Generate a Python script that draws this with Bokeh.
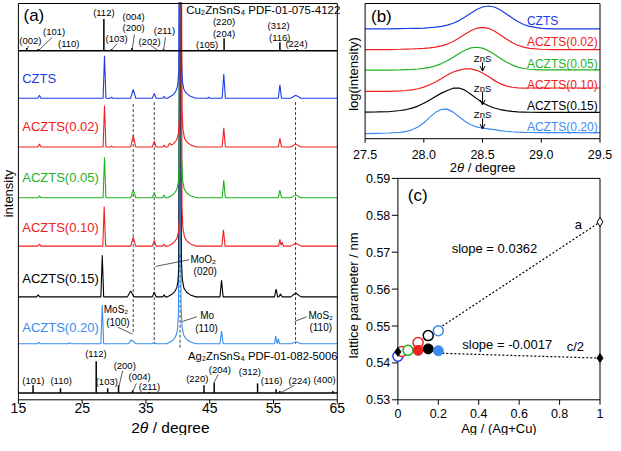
import numpy as np
from bokeh.plotting import figure
from bokeh.models import Range1d, Arrow, OpenHead
from bokeh.core.properties import value
from bokeh.embed import file_html
from bokeh.resources import INLINE

FONT = "Liberation Sans"

# ---------------- data ----------------
series_names = ["CZTS", "ACZTS(0.02)", "ACZTS(0.05)", "ACZTS(0.10)", "ACZTS(0.15)", "ACZTS(0.20)"]
series_colors = ["#1a3ce6", "#f02020", "#1fb21f", "#f02020", "#000000", "#3a8cf0"]

# panel (a): XRD patterns (peak 2theta, peak height, half width), vertical offsets
xrd_offset = [312, 261.5, 209, 159, 106.5, 58]
mo110_pos = [40.35, 40.45, 40.40, 40.45, 40.35, 40.30]

czts_pos = [18.3, 28.5, 29.6, 33.0, 36.3, 37.85, 44.85, 47.2, 56.0, 58.5]
czts_h = [3, 44, 1, 9, 5, 2, 1, 25, 14, 3]
czts_w = [0.25, 0.22, 0.2, 0.4, 0.3, 0.2, 0.2, 0.25, 0.25, 0.8]

a002_pos = [18.3, 28.5, 29.6, 33.0, 36.3, 37.85, 38.7, 47.2, 56.0, 58.5]
a002_h = [3, 43, 1, 12, 6, 2, 3, 20, 9, 3]
a002_w = [0.25, 0.22, 0.2, 0.4, 0.3, 0.2, 0.3, 0.25, 0.25, 0.8]

a005_pos = [18.3, 28.5, 33.0, 36.3, 37.85, 47.2, 56.0, 58.5]
a005_h = [2, 42, 8, 5, 3, 18, 8, 3]
a005_w = [0.25, 0.22, 0.4, 0.3, 0.2, 0.25, 0.25, 0.8]

a010_pos = [18.3, 28.45, 33.0, 36.3, 37.85, 47.15, 56.0, 56.35, 58.5]
a010_h = [2, 41, 9, 6, 2, 17, 7, 4, 3]
a010_w = [0.25, 0.22, 0.4, 0.3, 0.2, 0.25, 0.2, 0.2, 0.8]

a015_pos = [18.1, 28.15, 32.6, 36.3, 37.85, 46.85, 55.4, 56.1, 58.5]
a015_h = [2, 43, 6, 5, 2, 17, 8, 3, 4]
a015_w = [0.25, 0.22, 0.5, 0.3, 0.2, 0.25, 0.25, 0.25, 0.8]

a020_pos = [18.2, 23.0, 28.15, 32.7, 33.1, 36.3, 46.85, 55.35, 55.75, 58.5]
a020_h = [1.5, 1, 40, 4, 2, 1, 13, 8, 5, 2]
a020_w = [0.25, 0.3, 0.22, 0.45, 0.3, 0.3, 0.25, 0.2, 0.2, 0.8]

# Mo (110) substrate peak profile (offset from peak, height)
mo_dx = [-2.0, -1.6, -1.2, -0.9, -0.7, -0.5, -0.35, -0.2, -0.08, 0.0, 0.08, 0.2, 0.35, 0.6, 1.0, 1.6, 2.5]
mo_h = [0, 1.5, 3, 5, 7, 10, 15, 30, 300, 1000, 300, 40, 18, 9, 5, 2, 0]

# reference sticks
cu_base = 361
cu_pos = [16.3, 18.1, 23.0, 28.4, 29.6, 32.8, 36.95, 37.75, 44.9, 47.25, 56.0, 58.65]
cu_h = [3, 2, 1, 33, 2, 3, 1, 2, 2, 13, 9, 2]
ag_base = 7
ag_pos = [17.3, 21.6, 27.2, 29.0, 30.7, 32.9, 35.5, 44.1, 45.7, 52.5, 55.4, 56.0, 64.3]
ag_h = [8, 5, 33, 5, 8, 3, 1, 8, 11, 10, 4, 2, 2]
a_xticks = [15, 25, 35, 45, 55, 65]

# panel (b): log intensity around (112)
b_x = [27.5, 27.6, 27.7, 27.8, 27.85, 27.9, 27.95, 28.0, 28.05, 28.1, 28.15, 28.2, 28.25, 28.3,
       28.35, 28.4, 28.45, 28.5, 28.55, 28.6, 28.65, 28.7, 28.75, 28.8, 28.85, 28.9, 29.0, 29.1,
       29.2, 29.3, 29.4, 29.5]
b_czts = [113.7, 113.7, 113.7, 114.0, 114.1, 114.2, 114.3, 114.6, 115.0, 115.5, 116.3, 117.6, 119.5,
          122.3, 126.0, 130.0, 133.8, 136.4, 137.4, 136.4, 133.5, 129.5, 125.2, 121.3, 118.3, 116.3,
          114.3, 113.8, 113.7, 113.7, 113.7, 113.7]
b_002 = [92.3, 92.3, 92.3, 92.6, 92.8, 92.9, 93.2, 93.6, 94.1, 94.9, 96.1, 98.0, 100.7, 104.2, 108.1,
         111.8, 114.3, 115.3, 114.3, 111.5, 107.6, 103.4, 99.7, 96.8, 94.8, 93.6, 92.6, 92.3, 92.3,
         92.3, 92.3, 92.3]
b_005 = [71.0, 71.0, 71.0, 71.3, 71.6, 71.8, 72.2, 72.9, 73.9, 75.4, 77.8, 80.7, 84.3, 88.2, 91.6,
         94.1, 94.7, 93.8, 91.1, 87.4, 83.3, 79.5, 76.5, 74.1, 72.7, 71.9, 71.2, 71.2, 71.2, 71.2,
         71.2, 71.2]
b_010 = [49.0, 49.0, 49.1, 49.5, 49.9, 50.6, 51.7, 53.4, 55.8, 58.8, 62.3, 65.9, 69.1, 71.05, 72.4,
         72.3, 70.8, 68.0, 64.3, 60.4, 57.0, 54.7, 53.3, 52.7, 52.45, 52.5, 52.5, 52.5, 52.5, 52.5,
         52.5, 52.5]
b_015 = [27.6, 27.7, 27.9, 29.2, 30.2, 31.7, 33.8, 36.7, 40.1, 43.8, 47.2, 49.9, 52.3, 52.5, 50.3,
         46.1, 41.5, 37.3, 34.1, 31.8, 30.2, 29.1, 28.3, 27.8, 27.6, 27.4, 27.3, 27.3, 27.3, 27.3,
         27.3, 27.3]
b_020 = [5.3, 5.6, 5.9, 6.6, 7.5, 9.2, 12.1, 16.5, 22.1, 27.3, 30.3, 30.6, 27.5, 22.7, 18.05, 14.4,
         12.2, 10.9, 10.1, 9.3, 8.45, 7.7, 7.2, 6.85, 6.55, 6.4, 6.3, 6.3, 6.3, 6.3, 6.3, 6.3]
b_xticks = [27.5, 28.0, 28.5, 29.0, 29.5]

# panel (c): lattice parameters
c_ag = [0.0, 0.02, 0.05, 0.10, 0.15, 0.20]
c_a = [0.5418, 0.5431, 0.5434, 0.5455, 0.5474, 0.5487]
c_half_c_ag = [0.10, 0.15, 0.20]
c_half_c = [0.5434, 0.5438, 0.5433]
c_half_c_colors = ["#f02020", "#000000", "#3a8cf0"]
ags_ag = [1.0]
ags_a = [0.5782]
ags_half_c = [0.5413]
czts_ref_ag = [0.0]
czts_ref_half_c = [0.5430]
fit_x = [0.22, 1.0]
fit_a = [0.5500, 0.5782]
fit_c = [0.5426, 0.5413]
c_xticks = [0, 0.2, 0.4, 0.6, 0.8, 1.0]
c_xlabels = ["0", "0.2", "0.4", "0.6", "0.8", "1"]
c_yticks = [0.53, 0.54, 0.55, 0.56, 0.57, 0.58, 0.59]

# ---------------- layout (frame pixel geometry) ----------------
W, H = 613, 435
FW, FH = W, H - 2
A_L, A_R, A_T, A_B = 17.9, 336.8, 1.0, 397.3
B_L, B_R, B_T, B_B = 364.6, 599.5, 1.0, 136.2
C_L, C_R, C_T, C_B = 397.4, 599.5, 175.9, 397.3


def prange(d0, d1, p0, p1, total):
    s = (d1 - d0) / (p1 - p0)
    start = d0 - p0 * s
    return Range1d(start=start, end=start + total * s)


p = figure(width=W, height=H, x_range=Range1d(0, FW), y_range=Range1d(0, FH),
           output_backend="svg", toolbar_location=None, title=None,
           x_axis_location=None, y_axis_location=None,
           min_border_left=0, min_border_right=0, min_border_top=2, min_border_bottom=0)
p.outline_line_color = None
p.background_fill_color = "white"
p.border_fill_color = "white"
for g in p.grid:
    g.visible = False

p.extra_x_ranges = {"a": prange(15, 65, A_L, A_R, FW),
                    "b": prange(27.5, 29.5, B_L, B_R, FW),
                    "c": prange(0, 1, C_L, C_R, FW)}
p.extra_y_ranges = {"a": prange(0, 410, FH - A_B, FH - A_T, FH),
                    "b": prange(0, 140, FH - B_B, FH - B_T, FH),
                    "c": prange(0.53, 0.59, FH - C_B, FH - C_T, FH)}
# data units per pixel
sxa, sya = 50 / (A_R - A_L), 410 / (A_B - A_T)
sxb, syb = 2 / (B_R - B_L), 140 / (B_B - B_T)
sxc, syc = 1 / (C_R - C_L), 0.06 / (C_B - C_T)


def R(n):
    return dict(x_range_name=n, y_range_name=n)


def txt(n, x, y, t, size, color="black", align="center", angle=0.0, style="normal"):
    p.text(x=[x], y=[y], text=[t], text_font=value(FONT), text_font_size=size,
           text_color=color, text_align=align, text_baseline="middle", angle=angle,
           text_font_style=style, **R(n))


def theta_label(n, xc, y, fs, sx):
    # "2θ / degree" with an italic theta, centred at xc
    w2, wt, wsp, wr = 0.556 * fs, 0.556 * fs, 0.278 * fs, 3.669 * fs
    x0 = xc - (w2 + wt + wsp + wr) / 2 * sx
    txt(n, x0, y, "2", "%gpx" % fs, align="left")
    txt(n, x0 + w2 * sx, y, "θ", "%gpx" % fs, align="left", style="italic")
    txt(n, x0 + (w2 + wt + wsp) * sx, y, "/ degree", "%gpx" % fs, align="left")


def pattern(base, pos, h, w, mo):
    xs = [15.0, 65.0]
    for c, ww in zip(pos, w):
        xs += [c - ww, c, c + ww]
    xs += [mo + d for d in mo_dx]
    xs = np.unique(np.array(xs))
    y = np.full(xs.shape, float(base))
    for c, hh, ww in zip(pos, h, w):
        y += np.interp(xs, [c - ww, c, c + ww], [0, hh, 0])
    y += np.interp(xs, mo + np.array(mo_dx), mo_h)
    return xs, y


# ---------------- panel (a) ----------------
p.segment(x0=[33.0, 36.3, 58.45, 40.35], y0=[306, 308, 308, 150],
          x1=[33.0, 36.3, 58.45, 40.35], y1=[68, 58, 58, 53],
          line_color="#404040", line_dash="3 2", line_width=1, **R("a"))

peak_tables = [(czts_pos, czts_h, czts_w), (a002_pos, a002_h, a002_w), (a005_pos, a005_h, a005_w),
               (a010_pos, a010_h, a010_w), (a015_pos, a015_h, a015_w), (a020_pos, a020_h, a020_w)]
for i in [5, 4, 3, 2, 1, 0]:
    pos, h, w = peak_tables[i]
    xs, ys = pattern(xrd_offset[i], pos, h, w, mo110_pos[i])
    p.line(xs, ys, line_color=series_colors[i], line_width=1.1, **R("a"))

p.line([15, 65], [cu_base, cu_base], line_color="black", line_width=1.5, **R("a"))
p.segment(x0=cu_pos, y0=[cu_base] * len(cu_pos), x1=cu_pos,
          y1=[cu_base + v for v in cu_h], line_color="black", line_width=1.5, **R("a"))
p.line([15, 65], [ag_base, ag_base], line_color="black", line_width=1.5, **R("a"))
p.segment(x0=ag_pos, y0=[ag_base] * len(ag_pos), x1=ag_pos,
          y1=[ag_base + v for v in ag_h], line_color="black", line_width=1.5, **R("a"))

leaders = [(16.25, 361, 16.6, 366), (18.1, 361, 20.3, 375), (29.6, 362, 30.4, 368),
           (32.8, 361, 33.2, 378), (36.95, 361, 35.7, 367), (37.75, 361, 38.05, 375),
           (30.7, 12, 31.35, 30), (32.9, 8, 33.5, 17), (45.7, 18, 46.3, 26), (56.0, 7, 58.3, 15),
           (36.5, 138, 41.8, 145), (40.7, 81, 43.0, 86), (30.6, 75, 32.9, 68), (58.3, 81, 60.2, 86)]
p.segment(x0=[l[0] for l in leaders], y0=[l[1] for l in leaders],
          x1=[l[2] for l in leaders], y1=[l[3] for l in leaders],
          line_color="#303030", line_width=0.8, **R("a"))

top_hkl = [("(002)", 16.87, 372), ("(101)", 20.6, 381), ("(110)", 22.9, 369), ("(112)", 28.4, 401),
           ("(103)", 30.4, 374), ("(004)", 33.07, 397), ("(200)", 33.07, 385), ("(202)", 35.56, 371),
           ("(211)", 37.9, 382), ("(220)", 47.24, 391), ("(204)", 47.24, 379), ("(105)", 44.6, 368),
           ("(312)", 55.8, 387), ("(116)", 55.97, 375), ("(224)", 58.6, 369)]
bottom_hkl = [("(112)", 27.15, 48), ("(200)", 31.67, 36), ("(101)", 17.34, 20), ("(110)", 21.7, 20),
              ("(103)", 28.86, 19), ("(004)", 34.0, 24), ("(211)", 35.56, 14), ("(220)", 43.04, 22),
              ("(204)", 46.6, 31), ("(312)", 51.3, 29), ("(116)", 54.7, 20), ("(224)", 59.1, 20),
              ("(400)", 63.0, 21)]
for t, x, y in top_hkl + bottom_hkl:
    txt("a", x, y, t, "9.5px")
ann_a = [("MoO₂", 43.97, 145), ("(020)", 44.3, 133), ("Mo", 44.6, 87), ("(110)", 44.5, 74),
         ("MoS₂", 30.3, 93), ("(100)", 30.6, 80), ("MoS₂", 62.4, 87), ("(110)", 62.4, 75)]
for t, x, y in ann_a:
    txt("a", x, y, t, "10px")
txt("a", 41.3, 403, "Cu₂ZnSnS₄  PDF-01-075-4122", "11.5px", align="left")
txt("a", 41.6, 45, "Ag₂ZnSnS₄ PDF-01-082-5006", "11.2px", align="left")
txt("a", 15.8, 398, "(a)", "17px", align="left")
label_y = [332, 283, 230, 178, 126, 75]
for i, name in enumerate(series_names):
    txt("a", 15.6, label_y[i], name, "13px", color=series_colors[i], align="left")

# frame, ticks, labels of (a)
p.line([15, 65, 65, 15, 15], [0, 0, 410, 410, 0], line_color="black", line_width=1, **R("a"))
p.segment(x0=a_xticks, y0=[0] * 6, x1=a_xticks, y1=[-4 * sya] * 6, line_color="black", **R("a"))
for v in a_xticks:
    txt("a", v, -8.3 * sya, str(v), "14px")
theta_label("a", 15 + (169.9 - A_L) * sxa, -(425 - A_B) * sya, 15.5, sxa)
txt("a", 15 - (A_L - 7.5) * sxa, (A_B - 191) * sya, "intensity", "13px", angle=np.pi / 2)

# ---------------- panel (b) ----------------
b_series = [b_czts, b_002, b_005, b_010, b_015, b_020]
b_label_y = [122, 100, 77, 56, 34, 12]
for i in range(6):
    p.line(b_x, b_series[i], line_color=series_colors[i], line_width=1.2, **R("b"))
    txt("b", 28.878, b_label_y[i], series_names[i], "12px", color=series_colors[i], align="left")
zns_text_y = [83, 52, 25]
zns_arrow = [(79, 70), (49, 35), (21, 10)]
for ty, (y0, y1) in zip(zns_text_y, zns_arrow):
    txt("b", 28.5, ty, "ZnS", "9.5px")
    p.add_layout(Arrow(end=OpenHead(size=5, line_width=1, line_color="black"),
                       x_start=28.5, y_start=y0, x_end=28.5, y_end=y1,
                       line_width=1, line_color="black", **R("b")))
txt("b", 27.55, 127, "(b)", "17px", align="left")
p.line([27.5, 29.5, 29.5, 27.5, 27.5], [0, 0, 140, 140, 0], line_color="black", line_width=1, **R("b"))
p.segment(x0=b_xticks, y0=[0] * 5, x1=b_xticks, y1=[-4 * syb] * 5, line_color="black", **R("b"))
for v in b_xticks:
    txt("b", v, -(152 - B_B) * syb, "%.1f" % v, "12.5px")
theta_label("b", 28.5, -(165 - B_B) * syb, 13, sxb)
txt("b", 27.5 - (B_L - 353.2) * sxb, (B_B - 71.5) * syb, "log(intensity)", "13px", angle=np.pi / 2)

# ---------------- panel (c) ----------------
p.line([0, 1, 1, 0, 0], [0.53, 0.53, 0.59, 0.59, 0.53], line_color="black", line_width=1, **R("c"))
p.segment(x0=[-6 * sxc] * 7, y0=c_yticks, x1=[0] * 7, y1=c_yticks, line_color="black", **R("c"))
for v in c_yticks:
    txt("c", -(C_L - 389.8) * sxc, v, "%.2f" % v, "12.5px", align="right")
p.segment(x0=c_xticks, y0=[0.53] * 6, x1=c_xticks, y1=[0.53 - 5 * syc] * 6, line_color="black", **R("c"))
for v, lab in zip(c_xticks, c_xlabels):
    txt("c", v, 0.53 - (410.8 - C_B) * syc, lab, "12.5px")
txt("c", 0.5, 0.53 - (426.2 - C_B) * syc, "Ag / (Ag+Cu)", "13px")
txt("c", -(C_L - 353.2) * sxc, 0.53 + (C_B - 292.8) * syc, "lattice parameter / nm", "13px",
    angle=np.pi / 2)

p.line(fit_x, fit_a, line_color="black", line_dash="2 2", line_width=1.2, **R("c"))
p.line(fit_x, fit_c, line_color="black", line_dash="2 2", line_width=1.2, **R("c"))
p.scatter(c_ag, c_a, marker="circle", size=10, fill_color="white",
          line_color=series_colors, line_width=1.5, **R("c"))
p.scatter(c_half_c_ag, c_half_c, marker="circle", size=10, fill_color=c_half_c_colors,
          line_color=c_half_c_colors, line_width=1, **R("c"))
p.scatter(ags_ag, ags_a, marker="diamond", size=9, fill_color="white", line_color="black",
          line_width=1, **R("c"))
p.scatter(ags_ag, ags_half_c, marker="diamond", size=9, fill_color="black", line_color="black", **R("c"))
p.scatter(czts_ref_ag, czts_ref_half_c, marker="diamond", size=9, fill_color="black",
          line_color="black", **R("c"))
txt("c", 0.478, 0.5709, "slope = 0.0362", "13px")
txt("c", 0.541, 0.5449, "slope = -0.0017", "13px")
txt("c", 0.893, 0.5774, "a", "13px")
txt("c", 0.878, 0.5444, "c/2", "13px")
txt("c", 0.049, 0.5853, "(c)", "17px", align="left")

open("out.html", "w").write(file_html(p, INLINE))
